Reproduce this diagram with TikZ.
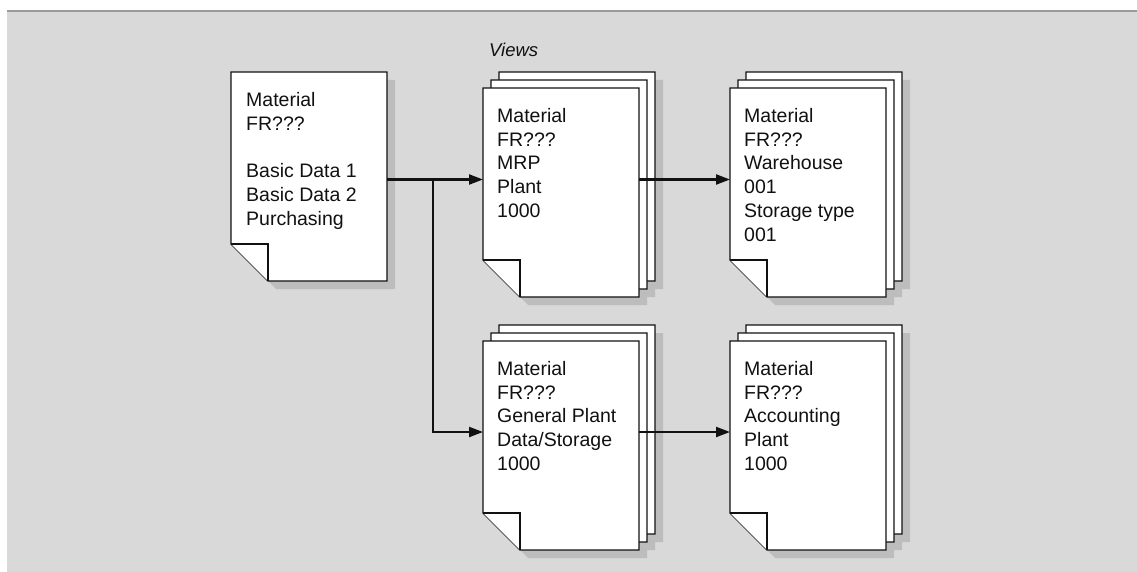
\documentclass[tikz,border=0pt]{standalone}
\usepackage{fontspec}
\setmainfont{Liberation Sans}
\usetikzlibrary{arrows.meta,calc}
\definecolor{bgc}{HTML}{D9D9D9}
\definecolor{shadc}{HTML}{BDBDBD}
\definecolor{rulec}{HTML}{9A9A9A}
\definecolor{inkc}{HTML}{111111}
\newcommand\shadowsheet[2]{\fill[shadc] (#1+8,#2+8) -- (#1+164,#2+8) -- (#1+164,#2+217) -- (#1+45,#2+217) -- (#1+8,#2+180) -- cycle;}
\newcommand\papersheet[2]{\filldraw[sheetst] (#1,#2) -- (#1+156,#2) -- (#1+156,#2+209) -- (#1+37,#2+209) -- (#1,#2+172) -- cycle;
  \draw[sheetst] (#1,#2+172) -- (#1+37,#2+172) -- (#1+37,#2+209);}
\newcommand\paperstack[2]{\shadowsheet{#1+16}{#2-16}\shadowsheet{#1+8}{#2-8}\shadowsheet{#1}{#2}%
  \papersheet{#1+16}{#2-16}\papersheet{#1+8}{#2-8}\papersheet{#1}{#2}}
\begin{document}
\begin{tikzpicture}[x=1pt,y=-1pt,
  sheetst/.style={fill=white,draw=inkc,line width=1.2pt,line join=miter},
  box/.style={anchor=north west,minimum width=156pt,minimum height=209pt,inner sep=0pt,draw=none},
  txt/.style={anchor=north west,inner sep=0pt,align=left,text=inkc,font={\fontsize{19.5}{23.8}\selectfont}},
  conn/.style={draw=inkc,line width=2.2pt},
  arr/.style={conn,-{Triangle[length=14pt,width=10pt]}}]
\useasboundingbox (0,0) rectangle (1137,572);
\fill[white] (0,0) rectangle (1137,572);
\fill[bgc] (7,11) rectangle (1137,572);
\draw[rulec,line width=2pt] (7,11) -- (1137,11);
% single document
\shadowsheet{231}{72}
\papersheet{231}{72}
\node[box] (basic) at (231,72) {};
\node[txt] (basict) at ($(basic.north west)+(15,20)$) {Material\\FR???\\[23.8pt]Basic Data 1\\Basic Data 2\\Purchasing};
% stacks
\paperstack{483}{88}
\node[box] (mrp) at (483,88) {};
\node[txt] (mrpt) at ($(mrp.north west)+(14,20)$) {Material\\FR???\\MRP\\Plant\\1000};
\paperstack{730}{88}
\node[box] (wh) at (730,88) {};
\node[txt] (wht) at ($(wh.north west)+(14,20)$) {Material\\FR???\\Warehouse\\001\\Storage type\\001};
\paperstack{483}{341}
\node[box] (gen) at (483,341) {};
\node[txt] (gent) at ($(gen.north west)+(14,20)$) {Material\\FR???\\General Plant\\Data/Storage\\1000};
\paperstack{730}{341}
\node[box] (acc) at (730,341) {};
\node[txt] (acct) at ($(acc.north west)+(14,20)$) {Material\\FR???\\Accounting\\Plant\\1000};
\node[anchor=base west,inner sep=0pt,text=inkc,font={\fontsize{18.5}{22}\selectfont\itshape}] (views) at (489,57) {Views};
% connectors
\coordinate (j1) at (433,179.5);
\coordinate (j2) at (433,432);
\draw[conn] (basic.east |- j1) -- (j1);
\draw[arr] (j1) -- (mrp.west |- j1);
\draw[arr] (j1) -- (j2) -- (gen.west |- j2);
\draw[arr] (mrp.east |- j1) -- (wh.west |- j1);
\draw[arr] (gen.east |- j2) -- (acc.west |- j2);
\end{tikzpicture}
\end{document}
